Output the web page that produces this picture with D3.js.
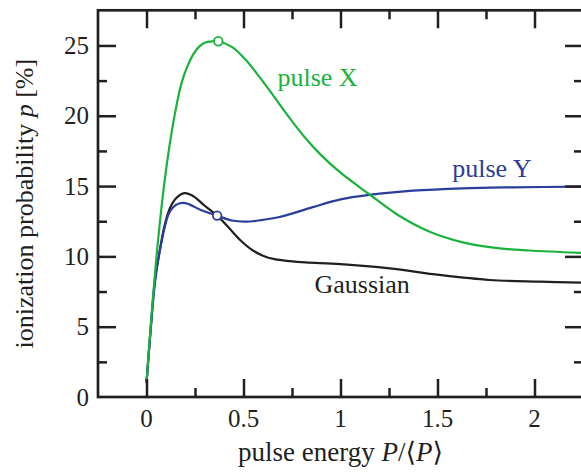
<!DOCTYPE html>
<html>
<head>
<meta charset="utf-8">
<script src="https://cdn.jsdelivr.net/npm/d3@7"></script>
<style>
	body { margin: 0; background: #fff; }
	svg { display: block; }
	text { font-family: "Liberation Serif", "DejaVu Serif", serif; fill: #231f20; }
</style>
</head>
<body>
<div id="chart"></div>
<script>
// pulse X (green)
var xPulseX = [0, 0.03, 0.06, 0.09, 0.12, 0.15, 0.18, 0.21, 0.24, 0.27, 0.30, 0.34, 0.37, 0.44, 0.51, 0.58, 0.65, 0.74, 0.82, 0.9, 1.0, 1.15, 1.29, 1.46, 1.63, 1.8, 1.97, 2.25];
var yPulseX = [1.0, 6.5, 11.2, 15.0, 18.0, 20.4, 22.3, 23.5, 24.35, 24.9, 25.2, 25.3, 25.3, 24.9, 24.0, 22.8, 21.5, 19.8, 18.4, 17.2, 15.95, 14.4, 13.0, 11.75, 11.0, 10.6, 10.42, 10.25];

// pulse Y (blue)
var xPulseY = [0, 0.02, 0.045, 0.083, 0.117, 0.15, 0.187, 0.22, 0.28, 0.364, 0.44, 0.514, 0.6, 0.686, 0.857, 1.0, 1.149, 1.373, 1.63, 1.888, 2.25];
var yPulseY = [1.0, 4.5, 8.3, 11.4, 13.1, 13.65, 13.8, 13.7, 13.3, 12.9, 12.55, 12.47, 12.6, 12.8, 13.5, 14.05, 14.37, 14.67, 14.84, 14.91, 14.96];

// Gaussian (black)
var xGauss = [0, 0.02, 0.045, 0.067, 0.09, 0.117, 0.15, 0.196, 0.24, 0.3, 0.364, 0.42, 0.48, 0.54, 0.6, 0.66, 0.74, 0.82, 1.0, 1.253, 1.51, 1.768, 2.026, 2.25];
var yGauss = [1.0, 4.6, 8.5, 10.3, 12.0, 13.3, 14.1, 14.5, 14.3, 13.6, 12.9, 12.1, 11.2, 10.5, 10.05, 9.8, 9.66, 9.57, 9.45, 9.15, 8.68, 8.32, 8.2, 8.13];

// open circle markers
var markerX = [0.37, 0.364];
var markerY = [25.3, 12.9];

var xMajorTicks = [0, 0.5, 1, 1.5, 2];
var xMinorTicks = [0.25, 0.75, 1.25, 1.75];
var yMajorTicks = [5, 10, 15, 20, 25];
var yMinorTicks = [2.5, 7.5, 12.5, 17.5, 22.5];
var yTickLabels = [0, 5, 10, 15, 20, 25];

var width = 581, height = 473;
var pLeft = 98, pRight = 583, pTop = 10.3, pBottom = 397;
var green = '#18b33c', blue = '#2a3d9a', black = '#231f20';
var majorLen = 18, minorLen = 9;

var svg = d3.select('#chart').append('svg')
	.attr('width', width)
	.attr('height', height);

var x = d3.scaleLinear().domain([-0.25, 2.25]).range([pLeft, pRight]);
var y = d3.scaleLinear().domain([0, 27.5]).range([pBottom, pTop]);

svg.append('clipPath').attr('id', 'clip')
	.append('rect')
	.attr('x', pLeft).attr('y', pTop)
	.attr('width', pRight - pLeft).attr('height', pBottom - pTop);

function zipPts(xs, ys) {
	return xs.map(function(v, i) { return [v, ys[i]]; });
}

var line = d3.line()
	.x(function(d) { return x(d[0]); })
	.y(function(d) { return y(d[1]); })
	.curve(d3.curveCatmullRom.alpha(0.5));

var curves = [
	{pts: zipPts(xGauss, yGauss), color: black},
	{pts: zipPts(xPulseY, yPulseY), color: blue},
	{pts: zipPts(xPulseX, yPulseX), color: green}
];

var plot = svg.append('g').attr('clip-path', 'url(#clip)');

plot.selectAll('.curve')
	.data(curves)
	.enter().append('path')
	.attr('class', 'curve')
	.attr('d', function(d) { return line(d.pts); })
	.attr('fill', 'none')
	.attr('stroke', function(d) { return d.color; })
	.attr('stroke-width', 2.2);

plot.selectAll('.marker')
	.data(zipPts(markerX, markerY))
	.enter().append('circle')
	.attr('class', 'marker')
	.attr('cx', function(d) { return x(d[0]); })
	.attr('cy', function(d) { return y(d[1]); })
	.attr('r', 4.3)
	.attr('fill', '#fff')
	.attr('stroke', function(d, i) { return i == 0 ? green : blue; })
	.attr('stroke-width', 1.8);

// axes: ticks pointing inward on all four sides
function tickAxis(axis, vals, len) {
	return axis.tickValues(vals).tickSize(len).tickSizeOuter(0).tickFormat('');
}

var gBottom = svg.append('g').attr('transform', 'translate(0,' + pBottom + ')');
gBottom.call(tickAxis(d3.axisTop(x), xMajorTicks, majorLen));
gBottom.append('g').call(tickAxis(d3.axisTop(x), xMinorTicks, minorLen));

var gTop = svg.append('g').attr('transform', 'translate(0,' + pTop + ')');
gTop.call(tickAxis(d3.axisBottom(x), xMajorTicks, majorLen));
gTop.append('g').call(tickAxis(d3.axisBottom(x), xMinorTicks, minorLen));

var gLeft = svg.append('g').attr('transform', 'translate(' + pLeft + ',0)');
gLeft.call(tickAxis(d3.axisRight(y), yMajorTicks, majorLen));
gLeft.append('g').call(tickAxis(d3.axisRight(y), yMinorTicks, minorLen));

var gRight = svg.append('g').attr('transform', 'translate(' + pRight + ',0)');
gRight.call(tickAxis(d3.axisLeft(y), yMajorTicks, majorLen));
gRight.append('g').call(tickAxis(d3.axisLeft(y), yMinorTicks, minorLen));

svg.selectAll('.domain').remove();
svg.selectAll('.tick line')
	.attr('stroke', black)
	.attr('stroke-width', 2.5);

svg.append('rect')
	.attr('x', pLeft).attr('y', pTop)
	.attr('width', pRight - pLeft).attr('height', pBottom - pTop)
	.attr('fill', 'none')
	.attr('stroke', black)
	.attr('stroke-width', 2.7);

// tick labels
svg.selectAll('.xlab')
	.data(xMajorTicks)
	.enter().append('text')
	.attr('class', 'xlab')
	.attr('x', function(d) { return x(d); })
	.attr('y', 427)
	.attr('text-anchor', 'middle')
	.attr('font-size', 25)
	.text(function(d) { return d3.format('')(d); });

svg.selectAll('.ylab')
	.data(yTickLabels)
	.enter().append('text')
	.attr('class', 'ylab')
	.attr('x', 89)
	.attr('y', function(d) { return y(d); })
	.attr('dy', '0.34em')
	.attr('text-anchor', 'end')
	.attr('font-size', 25)
	.text(function(d) { return d; });

// axis titles
var xt = svg.append('text')
	.attr('x', (pLeft + pRight) / 2)
	.attr('y', 461)
	.attr('text-anchor', 'middle')
	.attr('font-size', 27);
xt.append('tspan').text('pulse energy ');
xt.append('tspan').attr('font-style', 'italic').text('P');
xt.append('tspan').text('/\u27E8');
xt.append('tspan').attr('font-style', 'italic').text('P');
xt.append('tspan').text('\u27E9');

var yt = svg.append('text')
	.attr('transform', 'translate(33,' + (pTop + pBottom) / 2 + ') rotate(-90)')
	.attr('text-anchor', 'middle')
	.attr('font-size', 26);
yt.append('tspan').text('ionization probability ');
yt.append('tspan').attr('font-style', 'italic').text('p');
yt.append('tspan').text(' [%]');

// curve labels
svg.append('text')
	.attr('x', x(0.675)).attr('y', y(22.1))
	.attr('font-size', 26)
	.style('fill', green)
	.text('pulse X');
svg.append('text')
	.attr('x', x(1.576)).attr('y', y(15.65))
	.attr('font-size', 26)
	.style('fill', blue)
	.text('pulse Y');
svg.append('text')
	.attr('x', x(0.866)).attr('y', y(7.43))
	.attr('font-size', 26)
	.style('fill', black)
	.text('Gaussian');
</script>
</body>
</html>
